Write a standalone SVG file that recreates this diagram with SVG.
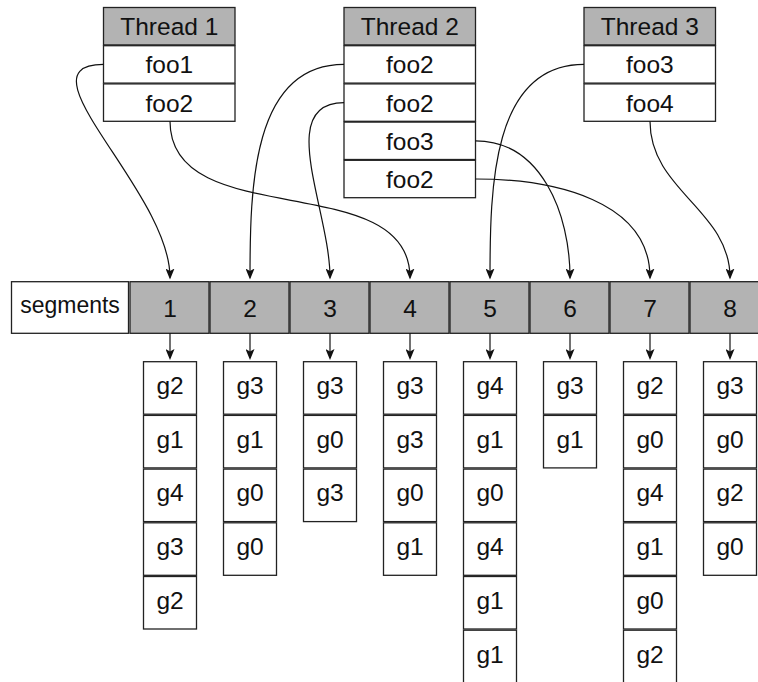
<svg xmlns="http://www.w3.org/2000/svg" width="758" height="682" viewBox="0 0 758 682">
  <defs>
    <marker id="tip" markerUnits="userSpaceOnUse" viewBox="0 0 11 9" markerWidth="11" markerHeight="9" refX="9" refY="4.5" orient="auto">
      <path d="M0,0 L11,4.5 L0,9 L2.5,4.5 Z" fill="#111"/>
    </marker>
  </defs>
  <style>
    text { font-family: "Liberation Sans", Arial, sans-serif; font-size: 24.5px; fill: #111; text-anchor: middle; }
    .narrow { font-size: 23px; }
    .box { fill: #ffffff; stroke: #222; stroke-width: 1.3; }
    .head { fill: #b3b3b3; stroke: #222; stroke-width: 1.3; }
    .link { fill: none; stroke: #111; stroke-width: 1.2; marker-end: url(#tip); }
  </style>
  <rect width="758" height="682" fill="#ffffff"/>

  <!-- thread stacks -->
  <g id="thread1">
    <rect class="head" x="103.5" y="7.5" width="131.5" height="37.4"/>
    <text x="169.3" y="35">Thread 1</text>
    <rect class="box" x="103.5" y="45.7" width="131.5" height="37.4"/>
    <text x="169.3" y="73.4">foo1</text>
    <rect class="box" x="103.5" y="83.9" width="131.5" height="37.4"/>
    <text x="169.3" y="111.6">foo2</text>
  </g>
  <g id="thread2">
    <rect class="head" x="344" y="7.5" width="131.5" height="37.4"/>
    <text x="409.8" y="35">Thread 2</text>
    <rect class="box" x="344" y="45.7" width="131.5" height="37.4"/>
    <text x="409.8" y="73.4">foo2</text>
    <rect class="box" x="344" y="83.9" width="131.5" height="37.4"/>
    <text x="409.8" y="111.6">foo2</text>
    <rect class="box" x="344" y="122.1" width="131.5" height="37.4"/>
    <text x="409.8" y="149.8">foo3</text>
    <rect class="box" x="344" y="160.3" width="131.5" height="37.4"/>
    <text x="409.8" y="188">foo2</text>
  </g>
  <g id="thread3">
    <rect class="head" x="584" y="7.5" width="131.5" height="37.4"/>
    <text x="649.8" y="35">Thread 3</text>
    <rect class="box" x="584" y="45.7" width="131.5" height="37.4"/>
    <text x="649.8" y="73.4">foo3</text>
    <rect class="box" x="584" y="83.9" width="131.5" height="37.4"/>
    <text x="649.8" y="111.6">foo4</text>
  </g>

  <!-- segment row -->
  <g id="segments">
    <rect class="box" x="11.5" y="281.7" width="117" height="51.6"/>
    <text class="narrow" x="70" y="313.3">segments</text>
  </g>
  <g id="seg1"><rect class="head" x="130" y="281.7" width="79" height="51.6"/><text x="170" y="316.7">1</text></g>
  <g id="seg2"><rect class="head" x="210" y="281.7" width="79" height="51.6"/><text x="250" y="316.7">2</text></g>
  <g id="seg3"><rect class="head" x="290" y="281.7" width="79" height="51.6"/><text x="330" y="316.7">3</text></g>
  <g id="seg4"><rect class="head" x="370" y="281.7" width="79" height="51.6"/><text x="410" y="316.7">4</text></g>
  <g id="seg5"><rect class="head" x="450" y="281.7" width="79" height="51.6"/><text x="490" y="316.7">5</text></g>
  <g id="seg6"><rect class="head" x="530" y="281.7" width="79" height="51.6"/><text x="570" y="316.7">6</text></g>
  <g id="seg7"><rect class="head" x="610" y="281.7" width="79" height="51.6"/><text x="650" y="316.7">7</text></g>
  <g id="seg8"><rect class="head" x="690" y="281.7" width="79" height="51.6"/><text x="730" y="316.7">8</text></g>

  <!-- group lists under each segment -->
  <g id="list1" transform="translate(170,0)">
    <rect class="box" x="-26.5" y="361.7" width="53" height="52.5"/><text x="0" y="394">g2</text>
    <rect class="box" x="-26.5" y="415.4" width="53" height="52.5"/><text x="0" y="447.7">g1</text>
    <rect class="box" x="-26.5" y="469.1" width="53" height="52.5"/><text x="0" y="501.4">g4</text>
    <rect class="box" x="-26.5" y="522.8" width="53" height="52.5"/><text x="0" y="555.1">g3</text>
    <rect class="box" x="-26.5" y="576.5" width="53" height="52.5"/><text x="0" y="608.8">g2</text>
  </g>
  <g id="list2" transform="translate(250,0)">
    <rect class="box" x="-26.5" y="361.7" width="53" height="52.5"/><text x="0" y="394">g3</text>
    <rect class="box" x="-26.5" y="415.4" width="53" height="52.5"/><text x="0" y="447.7">g1</text>
    <rect class="box" x="-26.5" y="469.1" width="53" height="52.5"/><text x="0" y="501.4">g0</text>
    <rect class="box" x="-26.5" y="522.8" width="53" height="52.5"/><text x="0" y="555.1">g0</text>
  </g>
  <g id="list3" transform="translate(330,0)">
    <rect class="box" x="-26.5" y="361.7" width="53" height="52.5"/><text x="0" y="394">g3</text>
    <rect class="box" x="-26.5" y="415.4" width="53" height="52.5"/><text x="0" y="447.7">g0</text>
    <rect class="box" x="-26.5" y="469.1" width="53" height="52.5"/><text x="0" y="501.4">g3</text>
  </g>
  <g id="list4" transform="translate(410,0)">
    <rect class="box" x="-26.5" y="361.7" width="53" height="52.5"/><text x="0" y="394">g3</text>
    <rect class="box" x="-26.5" y="415.4" width="53" height="52.5"/><text x="0" y="447.7">g3</text>
    <rect class="box" x="-26.5" y="469.1" width="53" height="52.5"/><text x="0" y="501.4">g0</text>
    <rect class="box" x="-26.5" y="522.8" width="53" height="52.5"/><text x="0" y="555.1">g1</text>
  </g>
  <g id="list5" transform="translate(490,0)">
    <rect class="box" x="-26.5" y="361.7" width="53" height="52.5"/><text x="0" y="394">g4</text>
    <rect class="box" x="-26.5" y="415.4" width="53" height="52.5"/><text x="0" y="447.7">g1</text>
    <rect class="box" x="-26.5" y="469.1" width="53" height="52.5"/><text x="0" y="501.4">g0</text>
    <rect class="box" x="-26.5" y="522.8" width="53" height="52.5"/><text x="0" y="555.1">g4</text>
    <rect class="box" x="-26.5" y="576.5" width="53" height="52.5"/><text x="0" y="608.8">g1</text>
    <rect class="box" x="-26.5" y="630.2" width="53" height="52.5"/><text x="0" y="662.5">g1</text>
  </g>
  <g id="list6" transform="translate(570,0)">
    <rect class="box" x="-26.5" y="361.7" width="53" height="52.5"/><text x="0" y="394">g3</text>
    <rect class="box" x="-26.5" y="415.4" width="53" height="52.5"/><text x="0" y="447.7">g1</text>
  </g>
  <g id="list7" transform="translate(650,0)">
    <rect class="box" x="-26.5" y="361.7" width="53" height="52.5"/><text x="0" y="394">g2</text>
    <rect class="box" x="-26.5" y="415.4" width="53" height="52.5"/><text x="0" y="447.7">g0</text>
    <rect class="box" x="-26.5" y="469.1" width="53" height="52.5"/><text x="0" y="501.4">g4</text>
    <rect class="box" x="-26.5" y="522.8" width="53" height="52.5"/><text x="0" y="555.1">g1</text>
    <rect class="box" x="-26.5" y="576.5" width="53" height="52.5"/><text x="0" y="608.8">g0</text>
    <rect class="box" x="-26.5" y="630.2" width="53" height="52.5"/><text x="0" y="662.5">g2</text>
  </g>
  <g id="list8" transform="translate(730,0)">
    <rect class="box" x="-26.5" y="361.7" width="53" height="52.5"/><text x="0" y="394">g3</text>
    <rect class="box" x="-26.5" y="415.4" width="53" height="52.5"/><text x="0" y="447.7">g0</text>
    <rect class="box" x="-26.5" y="469.1" width="53" height="52.5"/><text x="0" y="501.4">g2</text>
    <rect class="box" x="-26.5" y="522.8" width="53" height="52.5"/><text x="0" y="555.1">g0</text>
  </g>

  <!-- connectors -->
  <g id="connectors">
    <!-- calls into segments -->
    <path class="link" d="M103.5,64.4 C15.4,64.4 170,191.4 170,277.5"/>
    <path class="link" d="M170,121.3 C170,233.8 410,167 410,277.5"/>
    <path class="link" d="M344,64.4 C252.1,64.4 250,187.6 250,277.5"/>
    <path class="link" d="M344,102.6 C274.5,102.6 330,210 330,277.5"/>
    <path class="link" d="M475.5,140.8 C541.2,140.8 570,213.8 570,277.5"/>
    <path class="link" d="M475.5,179 C554.3,179 650,200.7 650,277.5"/>
    <path class="link" d="M584,64.4 C491.9,64.4 490,187.6 490,277.5"/>
    <path class="link" d="M650,121.3 C650,190.7 730,210.1 730,277.5"/>
    <!-- segment to group list -->
    <path class="link" d="M170,333.3 V358"/>
    <path class="link" d="M250,333.3 V358"/>
    <path class="link" d="M330,333.3 V358"/>
    <path class="link" d="M410,333.3 V358"/>
    <path class="link" d="M490,333.3 V358"/>
    <path class="link" d="M570,333.3 V358"/>
    <path class="link" d="M650,333.3 V358"/>
    <path class="link" d="M730,333.3 V358"/>
  </g>
</svg>
